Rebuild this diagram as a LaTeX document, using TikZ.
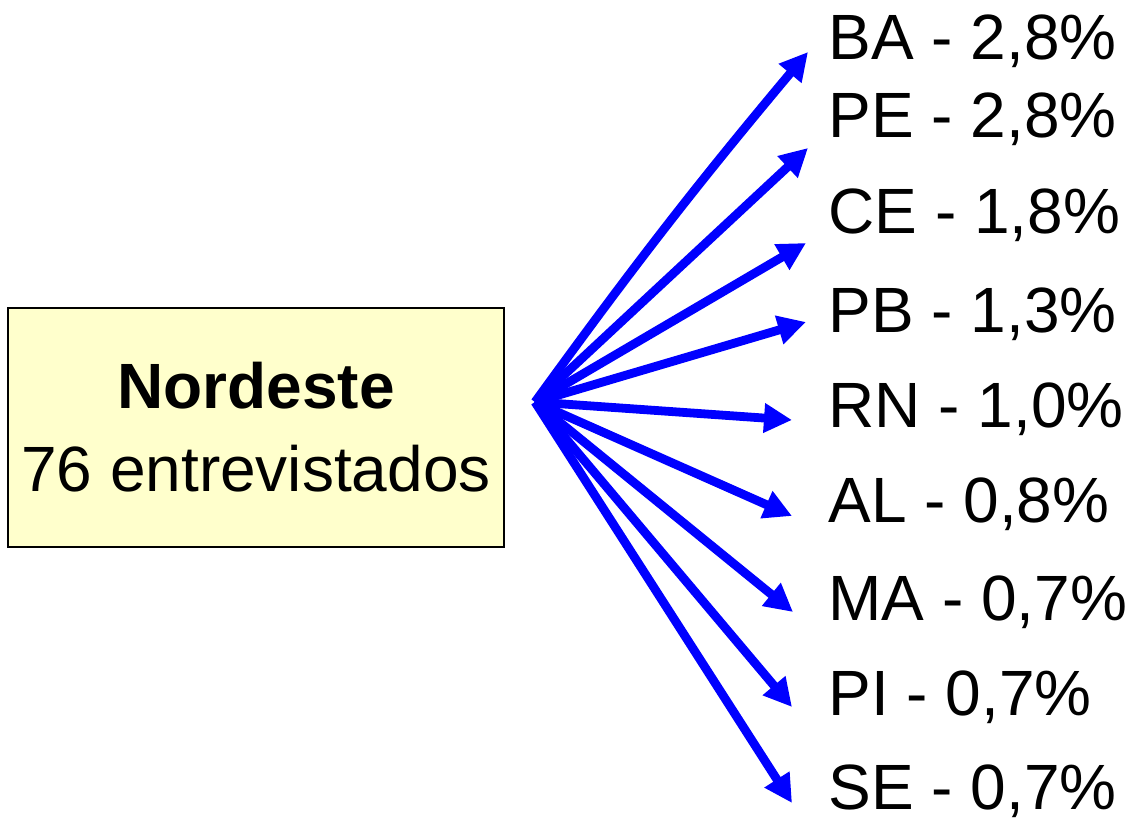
\documentclass[tikz,border=0pt]{standalone}
\usepackage{fontspec}
\setmainfont{Liberation Sans}
\usetikzlibrary{arrows.meta,positioning}
\definecolor{boxyellow}{HTML}{FFFFCC}
\tikzset{
  regiao/.style={draw=black,line width=1pt,fill=boxyellow,minimum width=248pt,
    minimum height=119.5pt,align=center,inner sep=0pt,
    font=\fontsize{32}{41.5}\selectfont},
  estado/.style={anchor=base west,inner sep=0pt,font=\fontsize{32}{37}\selectfont},
  seta/.style={draw=blue,line width=4.4pt,-{Triangle[length=14pt,width=14pt]}}
}

\begin{document}
\begin{tikzpicture}[x=0.5pt,y=-0.5pt]
  \useasboundingbox (0,0) rectangle (1127,818);  %Page frame

  \node[regiao] (nordeste) at (256,427.5) {\textbf{Nordeste}\\76 entrevistados}; %Region box

  \coordinate (hub) at (535,402) ;  %Common start of arrows

  \node[estado] (ba) at (828,60)  {BA - 2,8\%} ;  %State labels
  \node[estado] (pe) at (828,138) {PE - 2,8\%} ;
  \node[estado] (ce) at (828,233) {CE - 1,8\%} ;
  \node[estado] (pb) at (828,332) {PB - 1,3\%} ;
  \node[estado] (rn) at (828,427) {RN - 1,0\%} ;
  \node[estado] (al) at (828,522) {AL - 0,8\%} ;
  \node[estado] (ma) at (828,620) {MA - 0,7\%} ;
  \node[estado] (pi) at (828,715) {PI - 0,7\%} ;
  \node[estado] (se) at (828,809) {SE - 0,7\%} ;

  \coordinate (tipba) at (808,52) ;  %Arrow tips
  \coordinate (tippe) at (808,148) ;
  \coordinate (tipce) at (806,243) ;
  \coordinate (tippb) at (806,322) ;
  \coordinate (tiprn) at (792,420) ;
  \coordinate (tipal) at (792,516) ;
  \coordinate (tipma) at (793,612) ;
  \coordinate (tippi) at (792,707) ;
  \coordinate (tipse) at (792,803) ;

  \draw[seta] (hub) to[bend left=2] (tipba) ;
  \draw[seta] (hub) -- (tippe) ;
  \draw[seta] (hub) -- (tipce) ;
  \draw[seta] (hub) -- (tippb) ;
  \draw[seta] (hub) -- (tiprn) ;
  \draw[seta] (hub) -- (tipal) ;
  \draw[seta] (hub) -- (tipma) ;
  \draw[seta] (hub) -- (tippi) ;
  \draw[seta] (hub) -- (tipse) ;
\end{tikzpicture}
\end{document}
